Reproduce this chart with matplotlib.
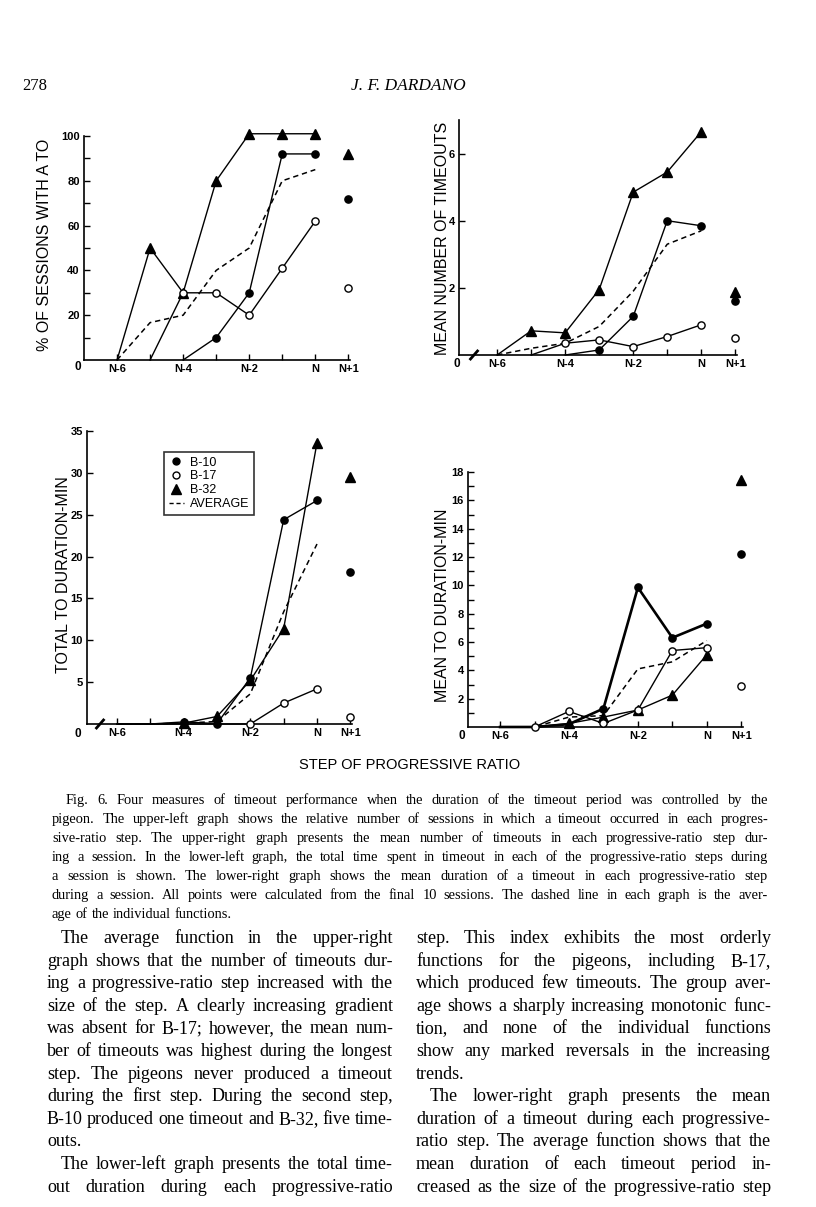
import numpy as np
import matplotlib
matplotlib.use("Agg")
import matplotlib.pyplot as plt
from matplotlib.lines import Line2D

nan = np.nan

# ---------------- data ----------------
steps = [1, 2, 3, 4, 5, 6, 7]          # N-6 ... N
step_next = 8                           # N+1
xtick_pos = [1, 2, 3, 4, 5, 6, 7, 8]
xtick_labels = ["N-6", "", "N-4", "", "N-2", "", "N", "N+1"]

# upper-left: % of sessions with a TO
ul_b10 = [nan, nan, 0, 10, 30, 92, 92]
ul_b17 = [nan, 0, 30, 30, 20, 41, 62]
ul_b32 = [0, 50, 30, 80, 101, 101, 101]
ul_avg = [0, 16.7, 20, 40, 50, 80, 85]
ul_next = {"b10": 72, "b17": 32, "b32": 92}

# upper-right: mean number of timeouts
ur_b10 = [nan, nan, 0, 0.15, 1.15, 4.0, 3.85]
ur_b17 = [nan, 0, 0.35, 0.45, 0.25, 0.55, 0.9]
ur_b32 = [0, 0.72, 0.66, 1.95, 4.85, 5.45, 6.65]
ur_avg = [0, 0.2, 0.35, 0.85, 1.9, 3.3, 3.7]
ur_next = {"b10": 1.62, "b17": 0.5, "b32": 1.88}

# lower-left: total TO duration (min)
ll_b10 = [0, 0, 0.25, 0.05, 5.5, 24.4, 26.7]
ll_b17 = [0, 0, 0, 0, 0, 2.5, 4.2]
ll_b32 = [0, 0, 0.1, 0.9, 5.2, 11.4, 33.6]
ll_avg = [0, 0, 0.1, 0.3, 3.6, 13.4, 21.5]
ll_next = {"b10": 18.1, "b17": 0.85, "b32": 29.5}

# lower-right: mean TO duration (min)
lr_b10 = [0, 0, 0.2, 1.3, 9.85, 6.3, 7.3]
lr_b17 = [0, 0, 1.1, 0.25, 1.2, 5.4, 5.6]
lr_b32 = [0, 0, 0.25, 0.7, 1.2, 2.25, 5.1]
lr_avg = [0, 0, 0.7, 0.8, 4.1, 4.6, 6.1]
lr_next = {"b10": 12.2, "b17": 2.9, "b32": 17.4}

legend_labels = ["B-10", "B-17", "B-32", "AVERAGE"]

caption_lines = [
    "Fig. 6. Four measures of timeout performance when the duration of the timeout period was controlled by the",
    "pigeon. The upper-left graph shows the relative number of sessions in which a timeout occurred in each progres-",
    "sive-ratio step. The upper-right graph presents the mean number of timeouts in each progressive-ratio step dur-",
    "ing a session. In the lower-left graph, the total time spent in timeout in each of the progressive-ratio steps during",
    "a session is shown. The lower-right graph shows the mean duration of a timeout in each progressive-ratio step",
    "during a session. All points were calculated from the final 10 sessions. The dashed line in each graph is the aver-",
    "age of the individual functions.",
]
left_col = [
    "The average function in the upper-right",
    "graph shows that the number of timeouts dur-",
    "ing a progressive-ratio step increased with the",
    "size of the step. A clearly increasing gradient",
    "was absent for B-17; however, the mean num-",
    "ber of timeouts was highest during the longest",
    "step. The pigeons never produced a timeout",
    "during the first step. During the second step,",
    "B-10 produced one timeout and B-32, five time-",
    "outs.",
    "The lower-left graph presents the total time-",
    "out duration during each progressive-ratio",
]
right_col = [
    "step. This index exhibits the most orderly",
    "functions for the pigeons, including B-17,",
    "which produced few timeouts. The group aver-",
    "age shows a sharply increasing monotonic func-",
    "tion, and none of the individual functions",
    "show any marked reversals in the increasing",
    "trends.",
    "The lower-right graph presents the mean",
    "duration of a timeout during each progressive-",
    "ratio step. The average function shows that the",
    "mean duration of each timeout period in-",
    "creased as the size of the progressive-ratio step",
]

# ---------------- figure ----------------
W, H = 816, 1207
fig = plt.figure(figsize=(W / 100, H / 100), dpi=100)
fig.patch.set_facecolor("white")
SANS = ["Liberation Sans", "DejaVu Sans"]
SERIF = ["Liberation Serif", "DejaVu Serif"]


def px_axes(x0, ytop, x1, ybot):
    return fig.add_axes([x0 / W, 1 - ybot / H, (x1 - x0) / W, (ybot - ytop) / H])


def style_axes(ax, xlim, ylim, major, minor, ylabel, ylabel_x, ylabel_y):
    ax.set_xlim(*xlim)
    ax.set_ylim(*ylim)
    for s in ("top", "right"):
        ax.spines[s].set_visible(False)
    for s in ("left", "bottom"):
        ax.spines[s].set_linewidth(1.2)
    ax.set_xticks(xtick_pos)
    ax.set_xticklabels(xtick_labels, fontsize=8, fontweight="bold", family=SANS)
    ax.set_yticks(major)
    ax.set_yticklabels([str(v) for v in major], fontsize=8, fontweight="bold", family=SANS)
    ax.set_yticks(minor, minor=True)
    ax.tick_params(axis="both", which="major", direction="in", length=4, width=1.0, pad=3)
    ax.tick_params(axis="y", which="minor", direction="in", length=4, width=1.0)
    fig.text(ylabel_x / W, 1 - ylabel_y / H, ylabel, rotation=90, ha="center", va="center",
             fontsize=11.5, family=SANS)


def draw_series(ax, b10, b17, b32, avg, nxt, marks, b10_lw=1.0):
    ax.plot(steps, avg, ls=(0, (3.5, 2.5)), color="k", lw=1.1, clip_on=False, zorder=2)
    ax.plot(steps, b17, "-", color="k", lw=1.0, clip_on=False, zorder=2)
    ax.plot(steps, b32, "-", color="k", lw=1.0, clip_on=False, zorder=2)
    ax.plot(steps, b10, "-", color="k", lw=b10_lw, clip_on=False, zorder=2)
    m10, m17, m32 = marks
    ax.plot(steps[m10:], b10[m10:], ls="none", marker="o", ms=5.2, mfc="k", mec="k",
            clip_on=False, zorder=4)
    ax.plot(steps[m17:], b17[m17:], ls="none", marker="o", ms=5.2, mfc="white", mec="k",
            mew=1.0, clip_on=False, zorder=4)
    ax.plot(steps[m32:], b32[m32:], ls="none", marker="^", ms=6.8, mfc="k", mec="k",
            clip_on=False, zorder=3)
    ax.plot([step_next], [nxt["b10"]], ls="none", marker="o", ms=5.2, mfc="k", mec="k", clip_on=False)
    ax.plot([step_next], [nxt["b17"]], ls="none", marker="o", ms=5.2, mfc="white", mec="k",
            mew=1.0, clip_on=False)
    ax.plot([step_next], [nxt["b32"]], ls="none", marker="^", ms=6.8, mfc="k", mec="k", clip_on=False)


def origin_label(x, y):
    fig.text(x / W, 1 - y / H, "0", ha="center", va="center", fontsize=8.5,
             fontweight="bold", family=SANS)


def break_mark(x, y):
    fig.add_artist(Line2D([(x - 3.5) / W, (x + 3.5) / W], [1 - (y + 4) / H, 1 - (y - 4) / H],
                          color="k", lw=2.0))


# upper-left
ax1 = px_axes(84, 136, 350, 360)
style_axes(ax1, (0, 8.05), (0, 100), [20, 40, 60, 80, 100], [10, 30, 50, 70, 90],
           "% OF SESSIONS WITH A TO", 45, 245)
draw_series(ax1, ul_b10, ul_b17, ul_b32, ul_avg, ul_next, (3, 2, 1))
origin_label(78, 367)

# upper-right
ax2 = px_axes(459, 120, 737, 355)
style_axes(ax2, (-0.12, 8.05), (0, 7), [2, 4, 6], [], "MEAN NUMBER OF TIMEOUTS", 443, 238)
draw_series(ax2, ur_b10, ur_b17, ur_b32, ur_avg, ur_next, (3, 2, 1))
origin_label(457, 364)
break_mark(474, 355)

# lower-left
ax3 = px_axes(87, 431, 352, 724)
style_axes(ax3, (0.1, 8.05), (0, 35), [5, 10, 15, 20, 25, 30, 35], [],
           "TOTAL TO DURATION-MIN", 63, 575)
draw_series(ax3, ll_b10, ll_b17, ll_b32, ll_avg, ll_next, (2, 4, 2))
origin_label(78, 734)
break_mark(100, 724)

# legend in lower-left
handles = [
    Line2D([], [], ls="none", marker="o", ms=5, mfc="k", mec="k"),
    Line2D([], [], ls="none", marker="o", ms=5, mfc="white", mec="k"),
    Line2D([], [], ls="none", marker="^", ms=6.5, mfc="k", mec="k"),
    Line2D([], [], ls=(0, (3, 2)), color="k", lw=1.0),
]
leg = ax3.legend(handles, legend_labels, loc="upper left",
                 bbox_to_anchor=(158 / W, 1 - 446 / H), bbox_transform=fig.transFigure,
                 frameon=True, fancybox=False, handlelength=1.2, handletextpad=0.5,
                 labelspacing=0.15, borderpad=0.35, prop={"family": SANS, "size": 9})
leg.get_frame().set_edgecolor("k")
leg.get_frame().set_linewidth(1.2)

# lower-right
ax4 = px_axes(468, 472, 743, 727)
style_axes(ax4, (0.07, 8.05), (0, 18), [2, 4, 6, 8, 10, 12, 14, 16, 18],
           [1, 3, 5, 7, 9, 11, 13, 15, 17], "MEAN TO DURATION-MIN", 443, 605)
draw_series(ax4, lr_b10, lr_b17, lr_b32, lr_avg, lr_next, (3, 1, 2), b10_lw=1.9)
origin_label(462, 736)

fig.text(410 / W, 1 - 765 / H, "STEP OF PROGRESSIVE RATIO", ha="center", va="center",
         fontsize=10.5, family=SANS)

# header
fig.text(22 / W, 1 - 86 / H, "278", ha="left", va="center", fontsize=12, family=SERIF)
fig.text(408 / W, 1 - 86 / H, "J. F. DARDANO", ha="center", va="center", fontsize=12.5,
         family=SERIF, style="italic")

# ---------------- justified text ----------------
renderer = fig.canvas.get_renderer()


def place_line(text, x0, x1, ybase, size, justify=True, indent=0.0):
    words = text.split(" ")
    avail = x1 - x0 - indent
    while True:
        objs, widths = [], []
        for w in words:
            t = fig.text(0, 1 - ybase / H, w, fontsize=size, family=SERIF, ha="left", va="baseline")
            widths.append(t.get_window_extent(renderer).width)
            objs.append(t)
        min_gap = size * 100 / 72 * 0.2
        if sum(widths) + min_gap * (len(words) - 1) <= avail or size < 6:
            break
        for t in objs:
            t.remove()
        size -= 0.2
    if justify and len(words) > 1:
        gap = (avail - sum(widths)) / (len(words) - 1)
    else:
        gap = size * 100 / 72 * 0.27
    x = x0 + indent
    for t, w in zip(objs, widths):
        t.set_x(x / W)
        x += w + gap


cap_y0, cap_dy = 804, 19.0
for i, line in enumerate(caption_lines):
    place_line(line, 52, 768, cap_y0 + i * cap_dy, 10.4, justify=(i < len(caption_lines) - 1),
               indent=14 if i == 0 else 0)

body_y0, body_dy = 943, 22.6
left_nojust = {9}
left_indent = {0, 10}
for i, line in enumerate(left_col):
    place_line(line, 47, 393, body_y0 + i * body_dy, 13.0, justify=(i not in left_nojust),
               indent=14 if i in left_indent else 0)
right_nojust = {6}
right_indent = {7}
for i, line in enumerate(right_col):
    place_line(line, 416, 771, body_y0 + i * body_dy, 13.0, justify=(i not in right_nojust),
               indent=14 if i in right_indent else 0)

fig.savefig("out.png", dpi=100, facecolor="white")
